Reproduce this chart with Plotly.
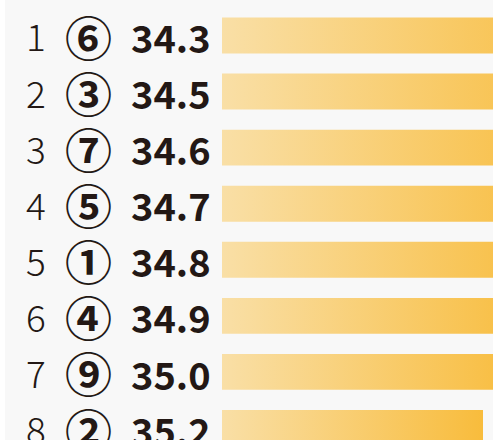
import plotly.graph_objects as go

# data
ranks = ["1", "2", "3", "4", "5", "6", "7", "8"]
horses = ["⑥", "③", "⑦", "⑤", "①", "④", "⑨", "②"]
times = ["34.3", "34.5", "34.6", "34.7", "34.8", "34.9", "35.0", "35.2"]
bar_len = [380, 365, 350, 340, 330, 315, 300, 261]

INK = "#231815"
fig = go.Figure()

# bars as filled polygons so each one gets its own horizontal gradient
half = 0.32
for i, v in enumerate(bar_len):
    fig.add_trace(go.Scatter(
        x=[0, v, v, 0, 0],
        y=[i - half, i - half, i + half, i + half, i - half],
        mode="lines", line=dict(width=0), fill="toself",
        fillgradient=dict(type="horizontal",
                          colorscale=[[0, "#f9dfa6"], [1, "#f8bc3c"]]),
        hoverinfo="skip", showlegend=False,
    ))

for i in range(len(ranks)):
    fig.add_annotation(x=36 / 493, xref="paper", y=i, yref="y", text=ranks[i],
                       showarrow=False, xanchor="center", yanchor="middle",
                       font=dict(family="Noto Sans CJK JP", size=37, color=INK,
                                 weight=300))
    fig.add_annotation(x=88 / 493, xref="paper", y=i, yref="y", text=horses[i],
                       showarrow=False, xanchor="center", yanchor="middle",
                       font=dict(family="Noto Sans CJK JP", size=47, color=INK,
                                 weight="bold"))
    fig.add_annotation(x=171 / 493, xref="paper", y=i + 0.02, yref="y", text=times[i],
                       showarrow=False, xanchor="center", yanchor="middle",
                       font=dict(family="Noto Sans CJK JP", size=38, color=INK,
                                 weight="bold"))

fig.add_shape(type="rect", xref="paper", yref="paper", x0=5 / 493, x1=1, y0=0, y1=1,
              fillcolor="#f8f8f8", line=dict(width=0), layer="below")

fig.update_layout(
    width=493, height=440,
    margin=dict(l=0, r=0, t=0, b=0),
    paper_bgcolor="white", plot_bgcolor="rgba(0,0,0,0)",
    xaxis=dict(domain=[222 / 493, 1], range=[0, 271], visible=False, fixedrange=True),
    yaxis=dict(range=[7.214, -0.633], visible=False, fixedrange=True),
)

fig.write_html("out.html", config={"displayModeBar": False},
               post_script="document.body.style.margin = '0';")
